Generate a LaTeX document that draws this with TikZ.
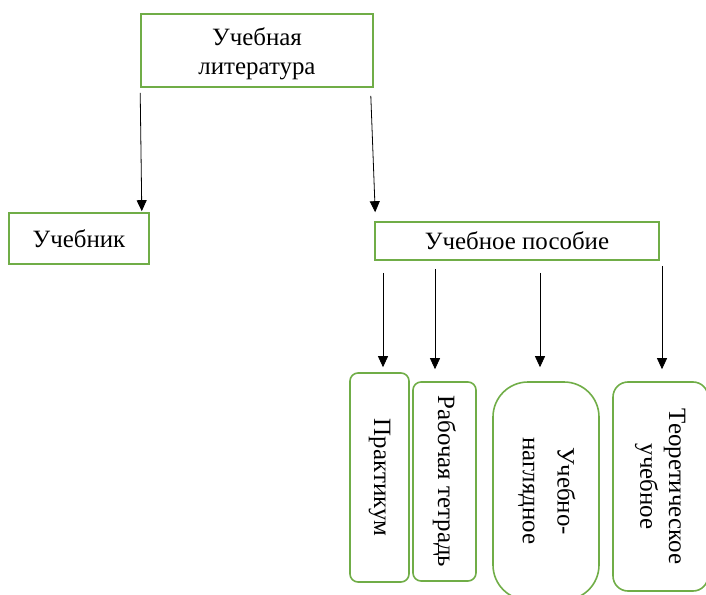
\documentclass[tikz,border=0pt]{standalone}
\usepackage{fontspec}
\setmainfont{Liberation Serif}
\usetikzlibrary{arrows.meta}
\definecolor{grn}{HTML}{70AD47}
\begin{document}
\begin{tikzpicture}[x=1bp,y=1bp,
  box/.style={draw=grn,line width=1.6bp,inner sep=0pt,align=center,
    font=\fontsize{25}{29}\selectfont},
  arr/.style={draw=black,line width=0.8bp,-{Triangle[length=11bp,width=10bp]}}]
\useasboundingbox (0,0) rectangle (706,-595);
\node[box,minimum width=232bp,minimum height=73bp] (top) at (257,-50.5) {\raisebox{-4bp}[\height][\depth]{\begin{tabular}{@{}c@{}}Учебная\\литература\end{tabular}}};
\node[box,minimum width=140bp,minimum height=51bp] (uchebnik) at (79,-238.5) {Учебник};
\node[box,minimum width=284bp,minimum height=38bp] (posobie) at (517,-241) {Учебное пособие};
\node[box,minimum width=59bp,minimum height=209bp,rounded corners=8bp] (prakt) at (379.5,-477.5)
  {\rotatebox{-90}{Практикум}};
\node[box,minimum width=63bp,minimum height=199bp,rounded corners=8bp] (rab) at (444.5,-481.5)
  {\rotatebox{-90}{Рабочая тетрадь}};
\node[box,minimum width=106bp,minimum height=218bp,rounded corners=35bp] (nagl) at (546,-491)
  {\rotatebox{-90}{\begin{tabular}{@{}c@{}}Учебно-\\[6bp]наглядное\end{tabular}}};
\node[box,minimum width=95bp,minimum height=209bp,rounded corners=15bp] (teor) at (660.5,-486.5)
  {\rotatebox{-90}{\begin{tabular}{@{}c@{}}Теоретическое\\учебное\end{tabular}}};
\coordinate (e1) at ([xshift=-8bp,yshift=1bp]uchebnik.north east);
\coordinate (e2) at ([xshift=1bp,yshift=9bp]posobie.north west);
\coordinate (a1) at ([xshift=3.5bp,yshift=5bp]prakt.north);
\coordinate (a2) at ([xshift=-9.5bp,yshift=12bp]rab.north);
\coordinate (a3) at ([xshift=-6bp,yshift=14bp]nagl.north);
\coordinate (a4) at ([xshift=1.5bp,yshift=12bp]teor.north);
\draw[arr] ([yshift=-5bp]top.south west) -- (e1);
\draw[arr] ([xshift=-3bp,yshift=-8bp]top.south east) -- (e2);
\draw[arr] (posobie.south -| a1) ++(0,-12) -- (a1);
\draw[arr] (posobie.south -| a2) ++(0,-8) -- (a2);
\draw[arr] (posobie.south -| a3) ++(0,-12) -- (a3);
\draw[arr] (posobie.south -| a4) ++(0,-5) -- (a4);
\end{tikzpicture}
\end{document}
